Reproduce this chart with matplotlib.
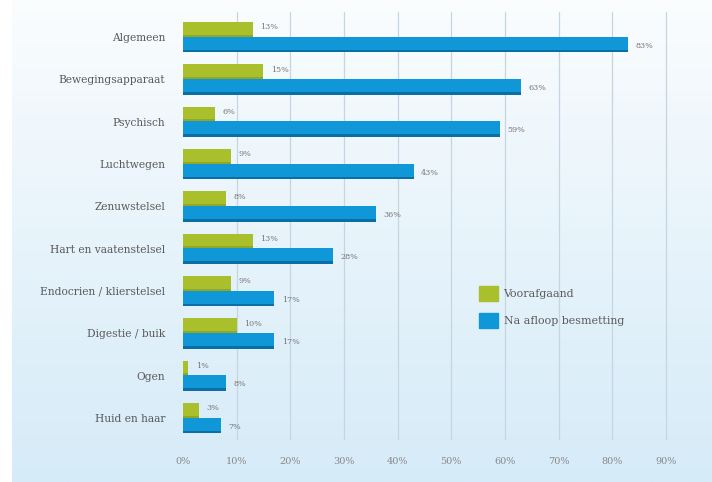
import numpy as np
import matplotlib
matplotlib.use("Agg")
import matplotlib.pyplot as plt
from matplotlib.colors import LinearSegmentedColormap

categories = ["Algemeen", "Bewegingsapparaat", "Psychisch", "Luchtwegen",
              "Zenuwstelsel", "Hart en vaatenstelsel", "Endocrien / klierstelsel",
              "Digestie / buik", "Ogen", "Huid en haar"]
voorafgaand = [13, 15, 6, 9, 8, 13, 9, 10, 1, 3]
na_afloop = [83, 63, 59, 43, 36, 28, 17, 17, 8, 7]
xticks = [0, 10, 20, 30, 40, 50, 60, 70, 80, 90]

green = "#a9c02c"
green_dark = "#93a822"
blue = "#0f97d8"
blue_dark = "#0b6fa6"
txt = "#5a5a5a"
serif = "DejaVu Serif"

fig = plt.figure(figsize=(7.12, 4.82), dpi=100)

# background panel with soft gradient
bg = fig.add_axes([12 / 712, 0, 1 - 12 / 712, 1])
grad = np.linspace(0, 1, 256) ** 0.9
bg.imshow(grad[:, None], aspect="auto", extent=[0, 1, 1, 0],
          cmap=LinearSegmentedColormap.from_list("bg", ["#fbfdfe", "#d6ebf8"]))
bg.set_axis_off()

ax = fig.add_axes([175 / 712, (482 - 440) / 482, (705 - 175) / 712, 428 / 482])
ax.patch.set_alpha(0)

y = np.arange(len(categories))
h = 0.355
gy = y - h / 2
by = y + h / 2

# bars with darker bottom strip for a bit of depth
ax.barh(gy, voorafgaand, height=h, color=green, zorder=3)
ax.barh(gy + h * 0.42, voorafgaand, height=h * 0.16, color=green_dark, zorder=3)
ax.barh(by, na_afloop, height=h * 1.05, color=blue, zorder=3)
ax.barh(by + h * 0.43, na_afloop, height=h * 0.18, color=blue_dark, zorder=3)

for yy, v in zip(gy, voorafgaand):
    ax.text(v + 1.4, yy - 0.05, f"{v}%", fontsize=5.8, color="#777777",
            family=serif, va="center", ha="left", zorder=4)
for yy, v in zip(by, na_afloop):
    ax.text(v + 1.4, yy + 0.03, f"{v}%", fontsize=5.8, color="#777777",
            family=serif, va="center", ha="left", zorder=4)

ax.set_xlim(-1.49, 97.3)
ax.set_ylim(9.52, -0.59)
ax.set_xticks(xticks)
ax.set_xticklabels([f"{t}%" for t in xticks], family=serif, fontsize=7, color="#888888")
ax.set_yticks(y)
ax.set_yticklabels(categories, family=serif, fontsize=7.7, color=txt)
ax.tick_params(axis="both", length=0)
ax.tick_params(axis="y", pad=7)
ax.tick_params(axis="x", pad=12)
for s in ax.spines.values():
    s.set_visible(False)
for t in xticks[1:]:
    ax.axvline(t, color="#c5d6e2", lw=0.9, zorder=1)

# legend
leg = ax.legend(handles=[plt.Rectangle((0, 0), 1, 1, color=green),
                         plt.Rectangle((0, 0), 1, 1, color=blue)],
                labels=["Voorafgaand", "Na afloop besmetting"],
                loc="upper left", bbox_to_anchor=((469 - 175) / 530, 1 - (276 - 12) / 428),
                frameon=False, prop={"family": serif, "size": 7.9},
                handlelength=1.75, handleheight=1.7, labelspacing=1.1, handletextpad=0.5)
for t in leg.get_texts():
    t.set_color(txt)

fig.savefig("out.png", dpi=100)
